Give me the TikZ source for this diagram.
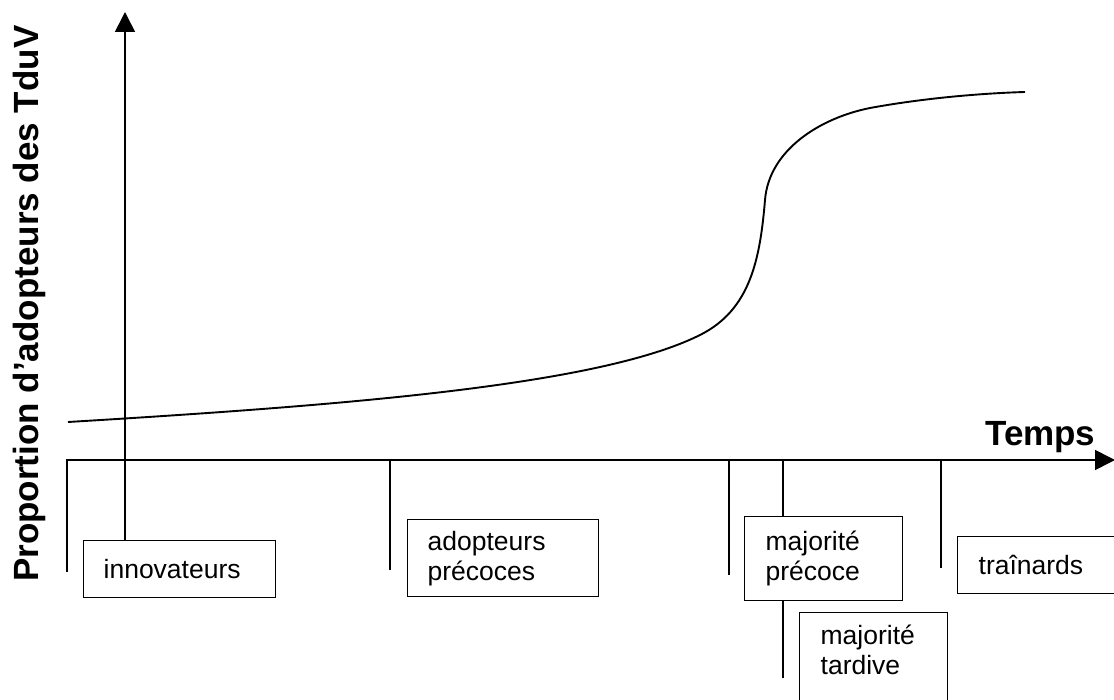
\documentclass[tikz,border=0pt]{standalone}
\usepackage{fontspec}
\setmainfont{Liberation Sans}
\usetikzlibrary{arrows.meta}
\begin{document}
\begin{tikzpicture}[x=1pt,y=-1pt,
  axisline/.style={line width=1.6pt, -{Triangle[width=20pt,length=20pt]}},
  tickline/.style={line width=1.3pt},
  curveline/.style={line width=1.9pt},
  box/.style={draw, line width=1.3pt, fill=white, align=left, anchor=north west,
    inner xsep=20pt, inner ysep=0pt, font=\fontsize{26.5}{30}\selectfont},
  lab/.style={font=\bfseries\fontsize{35}{40}\selectfont, inner sep=0pt}]
\useasboundingbox (0,0) rectangle (1114,700);
\clip (0,0) rectangle (1114,700);

% axes
\coordinate (ybot) at (125,548);
\coordinate (ytop) at (125,12);
\coordinate (xl) at (67,460);
\coordinate (xlb) at (67,572);
\coordinate (xr) at (1115,460);
\draw[axisline] (ybot) -- (ytop);
\draw[axisline] (xlb) -- (xl) -- (xr);

% ticks
\coordinate (t1) at (390,460); \coordinate (t1b) at (390,570);
\coordinate (t2) at (729,460); \coordinate (t2b) at (729,575);
\coordinate (t3) at (783,460); \coordinate (t3b) at (783,678);
\coordinate (t4) at (941,460); \coordinate (t4b) at (941,568);
\foreach \a/\b in {t1/t1b,t2/t2b,t3/t3b,t4/t4b}
  \draw[tickline] (\a) -- (\b);

% curve
\draw[curveline] (68,422) .. controls (350,405) and (600,385) .. (700,335)
  .. controls (750,310) and (760,260) .. (765,200)
  .. controls (769,150) and (820,118) .. (870,108)
  .. controls (930,97) and (990,93) .. (1025,92);

% boxes
\node[box, text width=152pt, minimum height=57pt] (inno) at (83,540) {innovateurs};
\node[box, text width=151pt, minimum height=77pt] (adop) at (407,519) {adopteurs\\précoces};
\node[box, text width=116pt, inner xsep=21pt, minimum height=84pt] (majp) at (744,516) {majorité\\précoce};
\node[box, text width=140pt, inner xsep=21pt, minimum height=57pt] (train) at (957,536) {traînards};
\node[box, text width=106pt, inner xsep=21pt, inner ysep=10pt, text height=22pt, text depth=90pt] (majt) at (799,612) {majorité\\tardive};

% labels
\node[lab, rotate=90, anchor=base west] (ylab) at (38,582) {Proportion d'adopteurs des TduV};
\node[lab, anchor=base west] (temps) at (985,446) {Temps};
\end{tikzpicture}
\end{document}
